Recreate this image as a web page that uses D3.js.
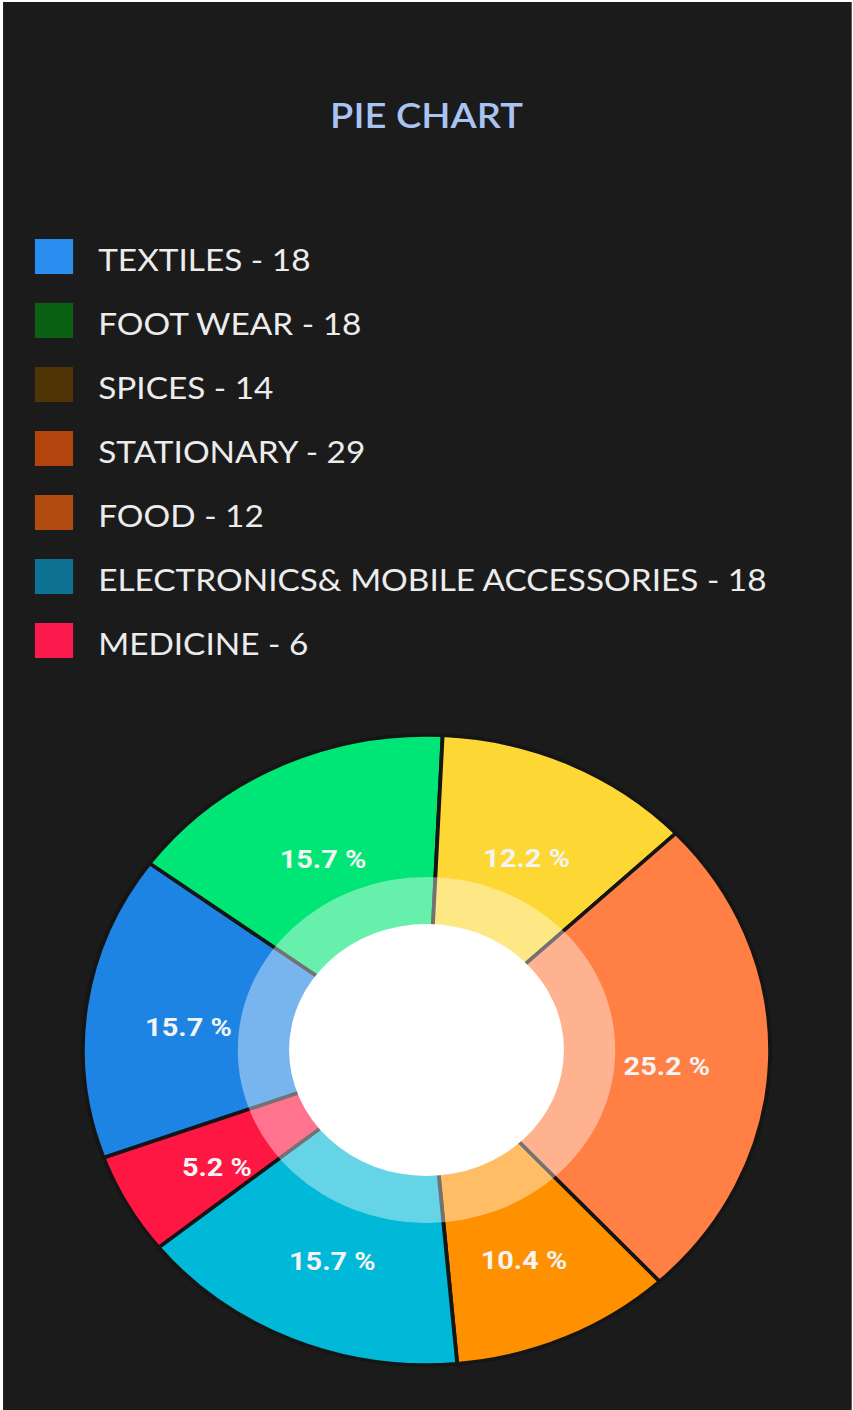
<!DOCTYPE html>
<html>
<head>
<meta charset="utf-8">
<script src="https://cdn.jsdelivr.net/npm/d3@7/dist/d3.min.js"></script>
<style>
  html, body { margin: 0; padding: 0; background: #ffffff; }
  svg { display: block; }
</style>
</head>
<body>
<svg id="chart"></svg>
<script>
// Category data, in drawing order (clockwise)
const categories = ["TEXTILES", "FOOT WEAR", "SPICES", "STATIONARY", "FOOD", "ELECTRONICS& MOBILE ACCESSORIES", "MEDICINE"];
const values = [18, 18, 14, 29, 12, 18, 6];
const legendColors = ["#2a8ef0", "#0b6113", "#503406", "#b4440d", "#b24b10", "#0e7294", "#fb1a4e"];
const sliceColors = ["#1e84e3", "#00e676", "#fdd835", "#ff7f45", "#ff9100", "#00b8d8", "#ff1744"];
const titleText = "PIE CHART";

const W = 853, H = 1410;
// drawing is laid out in a 782-wide space and stretched horizontally to the page width
const VW = 782;

const svg = d3.select("#chart")
  .attr("width", W).attr("height", H)
  .attr("viewBox", `0 0 ${VW} ${H}`)
  .attr("preserveAspectRatio", "none");

// dark panel with a thin light edge around it
svg.append("rect")
  .attr("x", 2.8).attr("y", 2).attr("width", VW - 4).attr("height", H - 2)
  .attr("fill", "#1b1b1b");

const font = "Lato, 'Open Sans', sans-serif";

// Title
svg.append("text")
  .attr("x", VW / 2).attr("y", 128)
  .attr("text-anchor", "middle")
  .attr("font-family", font)
  .attr("font-size", 35)
  .attr("font-weight", 600)
  .attr("fill", "#a9c3f3")
  .text(titleText);

// Legend
const legend = svg.append("g").attr("transform", "translate(32,239)");
const rows = legend.selectAll("g.row")
  .data(categories.map((c, i) => ({ c, v: values[i], col: legendColors[i] })))
  .join("g").attr("class", "row")
  .attr("transform", (d, i) => `translate(0,${i * 64})`);
rows.append("rect")
  .attr("width", 35).attr("height", 35)
  .attr("fill", d => d.col);
rows.append("text")
  .attr("x", 58).attr("y", 32)
  .attr("font-family", font)
  .attr("font-size", 30.6)
  .attr("fill", "#ececec")
  .text(d => `${d.c} - ${d.v}`);

// Donut
const cx = VW / 2, cy = 1050;
const R = 315, holeR = 126, ringR = 173;
const total = d3.sum(values);
const start = -110 * Math.PI / 180;

const pie = d3.pie().sort(null).startAngle(start).endAngle(start + 2 * Math.PI);
const arcs = pie(values);
const arc = d3.arc().innerRadius(0).outerRadius(R);

const g = svg.append("g").attr("transform", `translate(${cx},${cy})`);
g.selectAll("path.slice")
  .data(arcs)
  .join("path").attr("class", "slice")
  .attr("d", arc)
  .attr("fill", (d, i) => sliceColors[i])
  .attr("stroke", "#151515")
  .attr("stroke-width", 3.5)
  .attr("stroke-linejoin", "round");

// translucent ring and solid hole
g.append("circle").attr("r", ringR).attr("fill", "#ffffff").attr("fill-opacity", 0.4);
g.append("circle").attr("r", holeR).attr("fill", "#ffffff");

// Percentage labels
const labelArc = d3.arc().innerRadius((R + holeR) / 2).outerRadius((R + holeR) / 2);
g.selectAll("text.pct")
  .data(arcs)
  .join("text").attr("class", "pct")
  .attr("transform", d => `translate(${labelArc.centroid(d)})`)
  .attr("text-anchor", "middle")
  .attr("dy", "0.66em")
  .attr("font-family", "Roboto, sans-serif")
  .attr("font-weight", 700)
  .attr("font-size", 26.5)
  .attr("fill", "#f4f4f4")
  .text(d => `${(d.value / total * 100).toFixed(1)} %`);
</script>
</body>
</html>
